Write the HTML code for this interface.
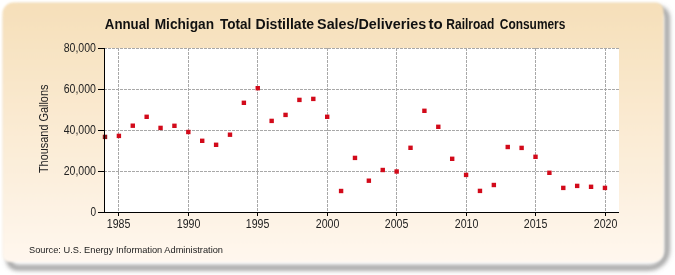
<!DOCTYPE html>
<html><head><meta charset="utf-8"><style>
html,body{margin:0;padding:0;background:#fff;width:675px;height:275px;overflow:hidden}
svg{display:block;will-change:transform}
text{font-family:"Liberation Sans",sans-serif}
.ax{font-size:12px;fill:#222}
.yl{font-size:12px;fill:#222}
.t{font-size:14px;font-weight:bold;fill:#111}
.s{font-size:9.8px;fill:#222}
</style></head><body>
<svg width="675" height="275" viewBox="0 0 675 275">
<defs>
<linearGradient id="bg" x1="0" y1="0" x2="0" y2="1">
<stop offset="0" stop-color="#f6dfb9"/>
<stop offset="1" stop-color="#fff7ee"/>
</linearGradient>
<filter id="sh" x="-10%" y="-10%" width="120%" height="120%"><feGaussianBlur stdDeviation="2.5"/></filter>
<filter id="pe" x="-5%" y="-5%" width="110%" height="115%"><feGaussianBlur stdDeviation="1"/></filter>
</defs>
<path d="M19,9 L659,9 A8,8 0 0 1 667,17 L667,249.7 A18,18 0 0 1 649,267.7 L17,267.7 A8,8 0 0 1 9,259.7 L9,19 A10,10 0 0 1 19,9 Z" fill="none" stroke="#7c7c7c" stroke-width="4" filter="url(#sh)"/>
<path d="M13.5,2.5 L655.5,2.5 A8,8 0 0 1 663.5,10.5 L663.5,252 A10,10 0 0 1 653.5,262 L9.5,262 A7,7 0 0 1 2.5,255 L2.5,13.5 A11,11 0 0 1 13.5,2.5 Z" fill="url(#bg)" filter="url(#pe)"/>
<text x="104.8" y="28.8" class="t" textLength="45.0" lengthAdjust="spacingAndGlyphs">Annual</text>
<text x="154.7" y="28.8" class="t" textLength="59.3" lengthAdjust="spacingAndGlyphs">Michigan</text>
<text x="219.9" y="28.8" class="t" textLength="31.4" lengthAdjust="spacingAndGlyphs">Total</text>
<text x="255.5" y="28.8" class="t" textLength="58.7" lengthAdjust="spacingAndGlyphs">Distillate</text>
<text x="317.1" y="28.8" class="t" textLength="109.1" lengthAdjust="spacingAndGlyphs">Sales/Deliveries</text>
<text x="428.5" y="28.8" class="t" textLength="14.2" lengthAdjust="spacingAndGlyphs">to</text>
<text x="446.3" y="28.8" class="t" textLength="48.0" lengthAdjust="spacingAndGlyphs">Railroad</text>
<text x="499.8" y="28.8" class="t" textLength="65.6" lengthAdjust="spacingAndGlyphs">Consumers</text>
<text transform="translate(47.6,128.8) rotate(-90)" text-anchor="middle" class="yl" textLength="88.5" lengthAdjust="spacingAndGlyphs">Thousand Gallons</text>
<text x="29" y="252.8" class="s" textLength="194" lengthAdjust="spacingAndGlyphs">Source: U.S. Energy Information Administration</text>
<rect x="104" y="48" width="515" height="164" fill="#ffffff"/>
<line x1="104" y1="48.5" x2="619" y2="48.5" stroke="#a8a8a8" stroke-width="1" stroke-dasharray="3,1"/>
<line x1="104" y1="89.5" x2="619" y2="89.5" stroke="#a8a8a8" stroke-width="1" stroke-dasharray="3,1"/>
<line x1="104" y1="130.5" x2="619" y2="130.5" stroke="#a8a8a8" stroke-width="1" stroke-dasharray="3,1"/>
<line x1="104" y1="171.5" x2="619" y2="171.5" stroke="#a8a8a8" stroke-width="1" stroke-dasharray="3,1"/>
<line x1="118.5" y1="48" x2="118.5" y2="212" stroke="#a8a8a8" stroke-width="1" stroke-dasharray="3,1"/>
<line x1="188.5" y1="48" x2="188.5" y2="212" stroke="#a8a8a8" stroke-width="1" stroke-dasharray="3,1"/>
<line x1="257.5" y1="48" x2="257.5" y2="212" stroke="#a8a8a8" stroke-width="1" stroke-dasharray="3,1"/>
<line x1="327.5" y1="48" x2="327.5" y2="212" stroke="#a8a8a8" stroke-width="1" stroke-dasharray="3,1"/>
<line x1="396.5" y1="48" x2="396.5" y2="212" stroke="#a8a8a8" stroke-width="1" stroke-dasharray="3,1"/>
<line x1="466.5" y1="48" x2="466.5" y2="212" stroke="#a8a8a8" stroke-width="1" stroke-dasharray="3,1"/>
<line x1="535.5" y1="48" x2="535.5" y2="212" stroke="#a8a8a8" stroke-width="1" stroke-dasharray="3,1"/>
<line x1="605.5" y1="48" x2="605.5" y2="212" stroke="#a8a8a8" stroke-width="1" stroke-dasharray="3,1"/>
<line x1="104.5" y1="48" x2="104.5" y2="213" stroke="#000" stroke-width="1"/>
<line x1="98" y1="212.5" x2="619" y2="212.5" stroke="#000" stroke-width="1"/>
<line x1="98" y1="48.5" x2="104" y2="48.5" stroke="#000" stroke-width="1"/>
<line x1="98" y1="89.5" x2="104" y2="89.5" stroke="#000" stroke-width="1"/>
<line x1="98" y1="130.5" x2="104" y2="130.5" stroke="#000" stroke-width="1"/>
<line x1="98" y1="171.5" x2="104" y2="171.5" stroke="#000" stroke-width="1"/>
<line x1="98" y1="212.5" x2="104" y2="212.5" stroke="#000" stroke-width="1"/>
<line x1="118.5" y1="212" x2="118.5" y2="216" stroke="#000" stroke-width="1"/>
<line x1="188.5" y1="212" x2="188.5" y2="216" stroke="#000" stroke-width="1"/>
<line x1="257.5" y1="212" x2="257.5" y2="216" stroke="#000" stroke-width="1"/>
<line x1="327.5" y1="212" x2="327.5" y2="216" stroke="#000" stroke-width="1"/>
<line x1="396.5" y1="212" x2="396.5" y2="216" stroke="#000" stroke-width="1"/>
<line x1="466.5" y1="212" x2="466.5" y2="216" stroke="#000" stroke-width="1"/>
<line x1="535.5" y1="212" x2="535.5" y2="216" stroke="#000" stroke-width="1"/>
<line x1="605.5" y1="212" x2="605.5" y2="216" stroke="#000" stroke-width="1"/>
<text x="96" y="52.2" text-anchor="end" class="ax" textLength="32.3" lengthAdjust="spacingAndGlyphs">80,000</text>
<text x="96" y="93.2" text-anchor="end" class="ax" textLength="32.3" lengthAdjust="spacingAndGlyphs">60,000</text>
<text x="96" y="134.2" text-anchor="end" class="ax" textLength="32.3" lengthAdjust="spacingAndGlyphs">40,000</text>
<text x="96" y="175.2" text-anchor="end" class="ax" textLength="32.3" lengthAdjust="spacingAndGlyphs">20,000</text>
<text x="96" y="216.2" text-anchor="end" class="ax" textLength="5.6" lengthAdjust="spacingAndGlyphs">0</text>
<text x="118.6" y="228.2" text-anchor="middle" class="ax" textLength="23.6" lengthAdjust="spacingAndGlyphs">1985</text>
<text x="188.6" y="228.2" text-anchor="middle" class="ax" textLength="23.6" lengthAdjust="spacingAndGlyphs">1990</text>
<text x="257.6" y="228.2" text-anchor="middle" class="ax" textLength="23.6" lengthAdjust="spacingAndGlyphs">1995</text>
<text x="327.6" y="228.2" text-anchor="middle" class="ax" textLength="23.6" lengthAdjust="spacingAndGlyphs">2000</text>
<text x="396.6" y="228.2" text-anchor="middle" class="ax" textLength="23.6" lengthAdjust="spacingAndGlyphs">2005</text>
<text x="466.6" y="228.2" text-anchor="middle" class="ax" textLength="23.6" lengthAdjust="spacingAndGlyphs">2010</text>
<text x="535.6" y="228.2" text-anchor="middle" class="ax" textLength="23.6" lengthAdjust="spacingAndGlyphs">2015</text>
<text x="605.6" y="228.2" text-anchor="middle" class="ax" textLength="23.6" lengthAdjust="spacingAndGlyphs">2020</text>
<rect x="102.80" y="134.70" width="4.4" height="4.4" fill="#8a1418"/>
<rect x="116.69" y="133.70" width="4.4" height="4.4" fill="#d20a1a"/>
<rect x="130.58" y="123.50" width="4.4" height="4.4" fill="#d20a1a"/>
<rect x="144.46" y="114.60" width="4.4" height="4.4" fill="#d20a1a"/>
<rect x="158.35" y="125.70" width="4.4" height="4.4" fill="#d20a1a"/>
<rect x="172.24" y="123.60" width="4.4" height="4.4" fill="#d20a1a"/>
<rect x="186.12" y="129.80" width="4.4" height="4.4" fill="#d20a1a"/>
<rect x="200.01" y="138.60" width="4.4" height="4.4" fill="#d20a1a"/>
<rect x="213.90" y="142.60" width="4.4" height="4.4" fill="#d20a1a"/>
<rect x="227.79" y="132.50" width="4.4" height="4.4" fill="#d20a1a"/>
<rect x="241.68" y="100.60" width="4.4" height="4.4" fill="#d20a1a"/>
<rect x="255.56" y="86.00" width="4.4" height="4.4" fill="#d20a1a"/>
<rect x="269.45" y="118.70" width="4.4" height="4.4" fill="#d20a1a"/>
<rect x="283.34" y="112.70" width="4.4" height="4.4" fill="#d20a1a"/>
<rect x="297.22" y="97.70" width="4.4" height="4.4" fill="#d20a1a"/>
<rect x="311.11" y="96.70" width="4.4" height="4.4" fill="#d20a1a"/>
<rect x="325.00" y="114.60" width="4.4" height="4.4" fill="#d20a1a"/>
<rect x="338.89" y="188.80" width="4.4" height="4.4" fill="#d20a1a"/>
<rect x="352.78" y="155.70" width="4.4" height="4.4" fill="#d20a1a"/>
<rect x="366.66" y="178.50" width="4.4" height="4.4" fill="#d20a1a"/>
<rect x="380.55" y="167.80" width="4.4" height="4.4" fill="#d20a1a"/>
<rect x="394.44" y="169.30" width="4.4" height="4.4" fill="#d20a1a"/>
<rect x="408.32" y="145.60" width="4.4" height="4.4" fill="#d20a1a"/>
<rect x="422.21" y="108.60" width="4.4" height="4.4" fill="#d20a1a"/>
<rect x="436.10" y="124.60" width="4.4" height="4.4" fill="#d20a1a"/>
<rect x="449.99" y="156.60" width="4.4" height="4.4" fill="#d20a1a"/>
<rect x="463.88" y="172.70" width="4.4" height="4.4" fill="#d20a1a"/>
<rect x="477.76" y="188.70" width="4.4" height="4.4" fill="#d20a1a"/>
<rect x="491.65" y="182.80" width="4.4" height="4.4" fill="#d20a1a"/>
<rect x="505.54" y="144.80" width="4.4" height="4.4" fill="#d20a1a"/>
<rect x="519.42" y="145.70" width="4.4" height="4.4" fill="#d20a1a"/>
<rect x="533.31" y="154.60" width="4.4" height="4.4" fill="#d20a1a"/>
<rect x="547.20" y="170.60" width="4.4" height="4.4" fill="#d20a1a"/>
<rect x="561.09" y="185.70" width="4.4" height="4.4" fill="#d20a1a"/>
<rect x="574.97" y="183.70" width="4.4" height="4.4" fill="#d20a1a"/>
<rect x="588.86" y="184.60" width="4.4" height="4.4" fill="#d20a1a"/>
<rect x="602.75" y="185.70" width="4.4" height="4.4" fill="#d20a1a"/>
<line x1="104.5" y1="48" x2="104.5" y2="213" stroke="#000" stroke-width="1"/>
</svg>
</body></html>
